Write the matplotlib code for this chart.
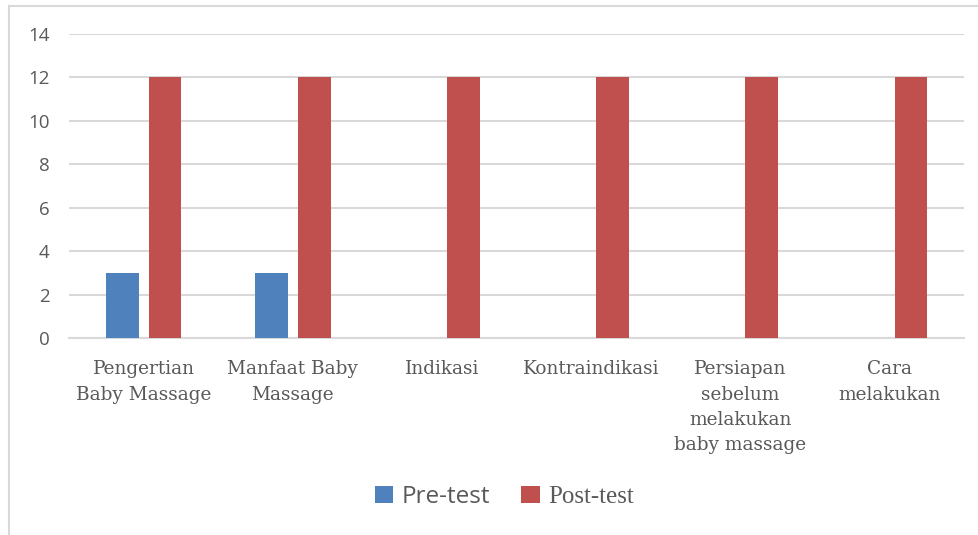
import numpy as np
import matplotlib.pyplot as plt
from matplotlib.lines import Line2D

# data
categories = ["Pengertian\nBaby Massage", "Manfaat Baby\nMassage", "Indikasi",
              "Kontraindikasi", "Persiapan\nsebelum\nmelakukan\nbaby massage",
              "Cara\nmelakukan"]
pre_test = [3, 3, 0, 0, 0, 0]
post_test = [12, 12, 12, 12, 12, 12]
series_names = ["Pre-test", "Post-test"]

blue = "#4f81bd"
red = "#c0504d"
grey_text = "#595959"
grid_col = "#d9d9d9"

fig = plt.figure(figsize=(9.79, 5.35), dpi=100)
ax = fig.add_axes([0.0705, 0.3682, 0.9142, 0.5682])

x = np.arange(len(categories))
w = 0.22
off = 0.144
b1 = ax.bar(x - off, pre_test, w, color=blue, label=series_names[0], zorder=3)
b2 = ax.bar(x + off, post_test, w, color=red, label=series_names[1], zorder=3)

ax.set_xlim(-0.5, len(categories) - 0.5)
ax.set_ylim(0, 14)
ax.set_yticks(range(0, 15, 2))
ax.yaxis.grid(True, color=grid_col, linewidth=1.5, zorder=0)
for s in ["top", "right", "left"]:
    ax.spines[s].set_visible(False)
ax.spines["bottom"].set_color(grid_col)
ax.spines["bottom"].set_linewidth(1.5)
ax.tick_params(axis="both", length=0, colors=grey_text)
ax.tick_params(axis="y", pad=14)
ax.tick_params(axis="x", pad=16)

ax.set_xticks(x)
ax.set_xticklabels(categories, family="DejaVu Serif", fontsize=13.3,
                   color=grey_text, linespacing=1.53)
for t in ax.get_yticklabels():
    t.set_family("Open Sans")
    t.set_fontsize(13.5)
    t.set_color(grey_text)

leg = fig.legend(handles=[b1, b2], loc="center", bbox_to_anchor=(0.515, 0.071),
                 ncol=2, frameon=False, handlelength=0.75, handleheight=0.75,
                 handletextpad=0.35, columnspacing=1.3, fontsize=17.5)
texts = leg.get_texts()
texts[0].set_family("Open Sans")
texts[1].set_family("Liberation Serif")
texts[1].set_fontsize(18)
for t in texts:
    t.set_color(grey_text)

# chart border (top and left visible)
fig.add_artist(Line2D([0.0092, 1.0], [0.988, 0.988], color=grid_col, linewidth=1.5,
                      transform=fig.transFigure))
fig.add_artist(Line2D([0.0097, 0.0097], [0.0, 0.988], color=grid_col, linewidth=1.5,
                      transform=fig.transFigure))

fig.savefig("out.png", dpi=100)
